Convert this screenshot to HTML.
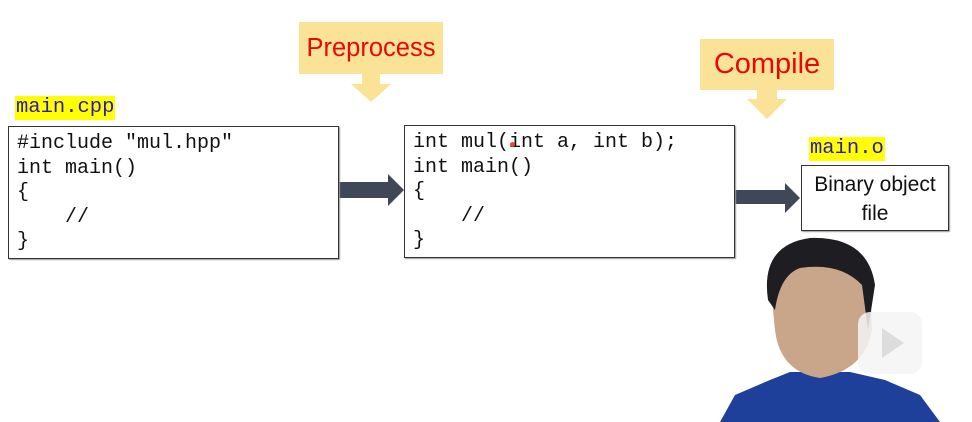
<!DOCTYPE html>
<html><head><meta charset="utf-8"><style>
body{margin:0;width:972px;height:422px;background:#fff;position:relative;overflow:hidden;font-family:"Liberation Sans",sans-serif}
.a{position:absolute}
.box{position:absolute;border:1px solid #333;box-shadow:1px 1px 1px #999;background:#fff}
.code{position:absolute;font-family:"Liberation Mono",monospace;font-size:20px;line-height:24.6px;color:#111;white-space:pre;margin:0}
.lbl{position:absolute;background:#ffff00;color:#2a1ab8;font-family:"Liberation Mono",monospace;font-size:20.5px;line-height:24px;padding:0 1px}
.ban{position:absolute;background:#fae396;color:#e8080c;font-size:29px;text-align:center}
</style></head><body>
<div class="ban" style="left:299px;top:22px;width:144px;height:52px;line-height:52px;font-size:25.5px">Preprocess</div>
<svg class="a" style="left:0;top:0" width="972" height="422">
<polygon points="362,74 380,74 380,84 391,84 371,102 351,84 362,84" fill="#fae396"/>
<polygon points="757,90 777,90 777,99 787,99 767,119 747,99 757,99" fill="#fae396"/>
<polygon points="338,182 388,182 388,174 404,190 388,206 388,198 338,198" fill="#404858"/>
<polygon points="734,190 785,190 785,183 800,198 785,213 785,204 734,204" fill="#404858"/>
<path d="M720,422 L735,395 L770,380 L790,372 L850,372 L885,380 L920,395 L940,422 Z" fill="#1e3f9a"/>
<path d="M770,280 Q770,245 810,240 Q860,238 870,280 L872,330 Q865,370 820,378 Q780,372 775,330 Z" fill="#c9a58a"/>
<path d="M768,300 Q760,245 810,238 Q868,236 875,285 L868,330 L862,285 Q840,262 800,268 Q780,275 775,310 Z" fill="#1e1e22"/>
<rect x="858" y="312" width="64" height="62" rx="12" fill="#f4f4f4" opacity="0.85"/>
<polygon points="882,328 882,358 904,343" fill="#ddd"/>
</svg>
<div class="ban" style="left:700px;top:39px;width:134px;height:51px;line-height:51px">Compile</div>
<div class="lbl" style="left:15px;top:96px">main.cpp</div>
<div class="box" style="left:8px;top:126px;width:329px;height:131px"></div>
<pre class="code" style="left:17px;top:132px">#include "mul.hpp"
int main()
{
    //
}</pre>
<div class="box" style="left:404px;top:125px;width:329px;height:131px"></div>
<pre class="code" style="left:413px;top:131px">int mul(int a, int b);
int main()
{
    //
}</pre>
<div class="a" style="left:510px;top:142px;width:5px;height:5px;border-radius:50%;background:#e44"></div>
<div class="lbl" style="left:809px;top:137px">main.o</div>
<div class="box" style="left:801px;top:165px;width:148px;height:66px;text-align:center;font-size:21px;line-height:29px;color:#111;padding-top:4px;box-sizing:border-box">Binary object<br>file</div>
</body></html>
